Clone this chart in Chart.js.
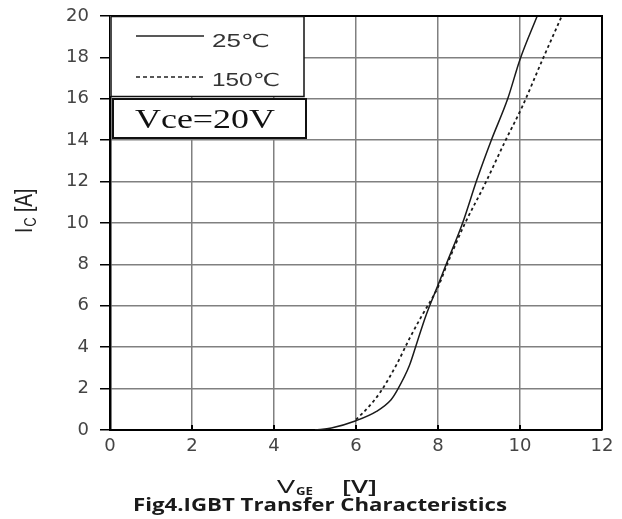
<!DOCTYPE html>
<html>
<head>
<meta charset="utf-8">
<script src="https://cdn.jsdelivr.net/npm/chart.js@4.4.1/dist/chart.umd.min.js"></script>
<style>
html,body{margin:0;padding:0;background:#fff;}
#wrap{position:relative;width:622px;height:519px;}
</style>
</head>
<body>
<div id="wrap"><canvas id="c" width="622" height="519"></canvas></div>
<script>
// ---- data ----
const vge25 = [5.0, 5.4, 6.0, 6.5, 6.85, 7.0, 7.3, 7.5, 7.7, 8.0, 8.2, 8.6, 8.95, 9.3, 9.7, 10.0, 10.42];
const ic25  = [0.0, 0.1, 0.45, 0.9, 1.45, 1.9, 3.1, 4.3, 5.5, 7.0, 8.0, 10.0, 12.1, 14.0, 16.0, 17.9, 20.0];
const vge150 = [6.0, 6.3, 6.6, 7.0, 7.3, 7.6, 8.0, 8.2, 8.65, 9.1, 9.65, 10.05, 10.55, 11.02];
const ic150  = [0.5, 1.1, 1.85, 3.2, 4.4, 5.5, 6.9, 7.9, 9.95, 11.7, 14.0, 15.6, 17.9, 20.0];
const seriesNames = ['25\u2103', '150\u2103'];
const noteText = 'Vce=20V';
const xTitleMain = 'V', xTitleSub = 'GE', xTitleUnit = '[V]';
const yTitleMain = 'I', yTitleSub = 'C', yTitleUnit = ' [A]';
const captionText = 'Fig4.IGBT Transfer Characteristics';
const xRange = [0, 12], yRange = [0, 20];
const xStep = 2, yStep = 2;

function pts(xs, ys){ return xs.map((x,i)=>({x:x, y:ys[i]})); }

function textTo(ctx, txt, left, baseY, font, targetW){
  ctx.save();
  ctx.font = font;
  ctx.textBaseline = 'alphabetic';
  ctx.textAlign = 'left';
  const w = ctx.measureText(txt).width;
  const sx = targetW ? targetW / w : 1;
  ctx.translate(left, baseY);
  ctx.scale(sx, 1);
  ctx.fillText(txt, 0, 0);
  ctx.restore();
}

const decor = {
  id: 'decor',
  afterDatasetsDraw(chart){
    const ctx = chart.ctx, a = chart.chartArea;
    const xs = chart.scales.x;
    ctx.save();
    // inward tick marks on x axis
    ctx.strokeStyle = '#000'; ctx.lineWidth = 2;
    for (let v = xRange[0]; v <= xRange[1]; v += xStep){
      const px = xs.getPixelForValue(v);
      ctx.beginPath(); ctx.moveTo(px, a.bottom); ctx.lineTo(px, a.bottom - 5); ctx.stroke();
    }
    // frame top / right
    ctx.lineWidth = 2;
    ctx.beginPath();
    ctx.moveTo(a.left, a.top); ctx.lineTo(a.right, a.top); ctx.lineTo(a.right, a.bottom);
    ctx.stroke();
    // legend box
    ctx.fillStyle = '#fff';
    ctx.fillRect(a.left, a.top, 194, 80);
    ctx.strokeStyle = '#111'; ctx.lineWidth = 1.5;
    ctx.strokeRect(a.left + 1, a.top + 0.5, 193, 80);
    // samples
    ctx.strokeStyle = '#222'; ctx.lineWidth = 1.3;
    ctx.beginPath(); ctx.moveTo(136, 36); ctx.lineTo(204, 36); ctx.stroke();
    ctx.setLineDash([4, 3]);
    ctx.beginPath(); ctx.moveTo(136, 77); ctx.lineTo(204, 77); ctx.stroke();
    ctx.setLineDash([]);
    ctx.fillStyle = '#333';
    textTo(ctx, seriesNames[0], 212, 47, '18px "Liberation Sans", "DejaVu Sans"', 58);
    textTo(ctx, seriesNames[1], 212, 86, '18px "Liberation Sans", "DejaVu Sans"', 68);
    // Vce box
    ctx.fillStyle = '#fff';
    ctx.fillRect(a.left + 2, 99, 194, 39);
    ctx.strokeStyle = '#111'; ctx.lineWidth = 2;
    ctx.strokeRect(a.left + 3, 99, 193, 39);
    ctx.fillStyle = '#111';
    ctx.save();
    ctx.translate(0, 128); ctx.scale(1, 1.1);
    textTo(ctx, noteText, 135, 0, '24px "Liberation Serif"', 140);
    ctx.restore();
    ctx.restore();
  },
  afterDraw(chart){
    const ctx = chart.ctx;
    ctx.save();
    ctx.fillStyle = '#1a1a1a';
    // x title
    textTo(ctx, xTitleMain, 277, 493, '18px "Open Sans"', 18);
    textTo(ctx, xTitleSub, 296, 495, '700 11px "Open Sans"', 17);
    textTo(ctx, xTitleUnit, 342, 493, '600 18px "Open Sans"', 35);
    // caption
    textTo(ctx, captionText, 133, 511, '700 17px "Open Sans"', 374);
    // y title (rotated)
    ctx.fillStyle = '#222';
    ctx.translate(32, 233);
    ctx.rotate(-Math.PI / 2);
    ctx.scale(1, 1.3);
    ctx.font = '19px "Liberation Sans"';
    ctx.textBaseline = 'alphabetic';
    let x = 0;
    ctx.fillText(yTitleMain, x, 0); x += ctx.measureText(yTitleMain).width + 1;
    ctx.font = '13px "Liberation Sans"';
    ctx.fillText(yTitleSub, x, 3); x += ctx.measureText(yTitleSub).width;
    ctx.font = '19px "Liberation Sans"';
    ctx.fillText(yTitleUnit, x, 0);
    ctx.restore();
  }
};

new Chart(document.getElementById('c'), {
  type: 'scatter',
  data: {
    datasets: [
      { label: seriesNames[0], data: pts(vge25, ic25), showLine: true, borderColor: '#1a1a1a',
        borderWidth: 1.5, pointRadius: 0, cubicInterpolationMode: 'monotone', fill: false },
      { label: seriesNames[1], data: pts(vge150, ic150), showLine: true, borderColor: '#1a1a1a',
        borderWidth: 1.8, borderDash: [3, 3], pointRadius: 0, cubicInterpolationMode: 'monotone', fill: false }
    ]
  },
  options: {
    responsive: false,
    animation: false,
    devicePixelRatio: 1,
    layout: { padding: { top: 16, right: 20, bottom: 59, left: 0 } },
    plugins: { legend: { display: false }, tooltip: { enabled: false }, title: { display: false } },
    scales: {
      x: {
        type: 'linear', position: 'bottom', min: xRange[0], max: xRange[1],
        ticks: { stepSize: xStep, color: '#444', padding: 6, font: { family: '"DejaVu Sans"', size: 18 } },
        grid: { color: '#808080', lineWidth: 1.5, drawTicks: false },
        border: { display: true, color: '#000', width: 2 },
        afterFit(s){ s.height = 30; s.paddingLeft = 0; s.paddingRight = 0; }
      },
      y: {
        type: 'linear', min: yRange[0], max: yRange[1],
        ticks: { stepSize: yStep, color: '#444', padding: 11, font: { family: '"DejaVu Sans"', size: 18 } },
        grid: { color: '#808080', lineWidth: 1.5, tickLength: 10, tickColor: '#000' },
        border: { display: true, color: '#000', width: 2.5 },
        afterFit(s){ s.width = 110; s.paddingTop = 0; s.paddingBottom = 0; }
      }
    }
  },
  plugins: [decor]
});
</script>
</body>
</html>
